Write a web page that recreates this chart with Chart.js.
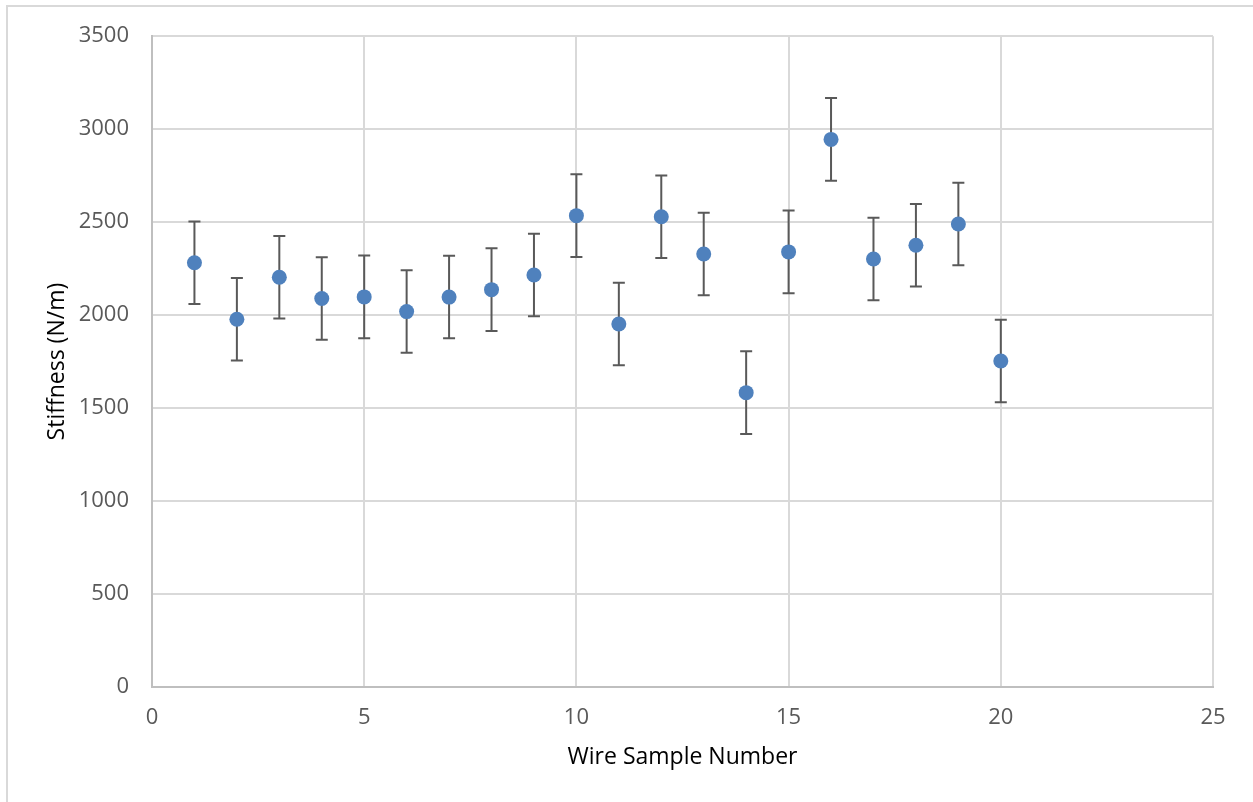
<!DOCTYPE html>
<html>
<head>
<meta charset="utf-8">
<title>Wire stiffness</title>
<script src="https://cdn.jsdelivr.net/npm/chart.js@4.4.1/dist/chart.umd.min.js"></script>
<style>
    html, body { margin: 0; padding: 0; background: #fff; }
    #wrap { position: relative; width: 1253px; height: 802px; }
    #frame { position: absolute; left: 6px; top: 5px; right: 0; bottom: 0; border-top: 2px solid #d9d9d9; border-left: 2px solid #d9d9d9; }
    #chart { position: absolute; left: 0; top: 0; }
</style>
</head>
<body>
<div id="wrap">
    <div id="frame"></div>
    <canvas id="chart" width="1253" height="802"></canvas>
</div>
<script>
// wire samples 1..20
var samples = [1, 2, 3, 4, 5, 6, 7, 8, 9, 10, 11, 12, 13, 14, 15, 16, 17, 18, 19, 20];
var stiffness = [2282, 1978, 2204, 2089, 2098, 2019, 2097, 2137, 2216, 2535, 1952, 2529, 2329, 1583, 2340, 2945, 2302, 2376, 2490, 1753];
var errors = [222, 222, 222, 222, 222, 222, 222, 222, 222, 222, 222, 222, 222, 222, 222, 222, 222, 222, 222, 222];

var xTicks = [0, 5, 10, 15, 20, 25];
var yTicks = [0, 500, 1000, 1500, 2000, 2500, 3000, 3500];

// error bars drawn under the markers
const errorBars = {
    id: "errorBars",
    beforeDatasetsDraw(chart) {
        const ctx = chart.ctx
        const xs = chart.scales.x
        const ys = chart.scales.y
        ctx.save()
        ctx.strokeStyle = "#595959"
        ctx.lineWidth = 2
        samples.forEach((s, i) => {
            const px = xs.getPixelForValue(s)
            const top = ys.getPixelForValue(stiffness[i] + errors[i])
            const bot = ys.getPixelForValue(stiffness[i] - errors[i])
            ctx.beginPath()
            ctx.moveTo(px, top)
            ctx.lineTo(px, bot)
            ctx.moveTo(px - 6, top)
            ctx.lineTo(px + 6, top)
            ctx.moveTo(px - 6, bot)
            ctx.lineTo(px + 6, bot)
            ctx.stroke()
        })
        ctx.restore()
    }
}

new Chart(document.getElementById("chart"), {
    type: "scatter",
    data: {
        datasets: [{
            label: "Stiffness",
            data: samples.map((s, i) => ({ x: s, y: stiffness[i] })),
            backgroundColor: "#4f81bd",
            borderColor: "#4f81bd",
            pointRadius: 7.5,
            pointBorderWidth: 0,
        }]
    },
    options: {
        responsive: false,
        animation: false,
        layout: { padding: { top: 35, right: 40, left: 0, bottom: 0 } },
        plugins: {
            legend: { display: false },
            tooltip: { enabled: false },
        },
        scales: {
            x: {
                type: "linear",
                min: 0,
                max: 25,
                afterBuildTicks: (scale) => { scale.ticks = xTicks.map(v => ({ value: v })) },
                afterFit: (scale) => { scale.height = 115 },
                grid: { color: "#d9d9d9", lineWidth: 2, drawTicks: false },
                border: { color: "#bfbfbf", width: 2 },
                ticks: { color: "#595959", font: { family: "Open Sans", size: 22 }, padding: 18, maxRotation: 0, callback: (v) => String(v) },
                title: { display: true, text: "Wire Sample Number", color: "#000", font: { family: "Open Sans", size: 23 }, padding: { top: 0, bottom: 31 } },
            },
            y: {
                type: "linear",
                min: 0,
                max: 3500,
                afterBuildTicks: (scale) => { scale.ticks = yTicks.map(v => ({ value: v })) },
                afterFit: (scale) => { scale.width = 152 },
                grid: { color: "#d9d9d9", lineWidth: 2, drawTicks: false },
                border: { color: "#bfbfbf", width: 2 },
                ticks: { color: "#595959", font: { family: "Open Sans", size: 22 }, padding: 23, callback: (v) => String(v) },
                title: { display: true, text: "Stiffness (N/m)", color: "#000", font: { family: "Open Sans", size: 23 }, padding: { top: 44, bottom: 0 } },
            },
        },
    },
    plugins: [errorBars],
});
</script>
</body>
</html>
